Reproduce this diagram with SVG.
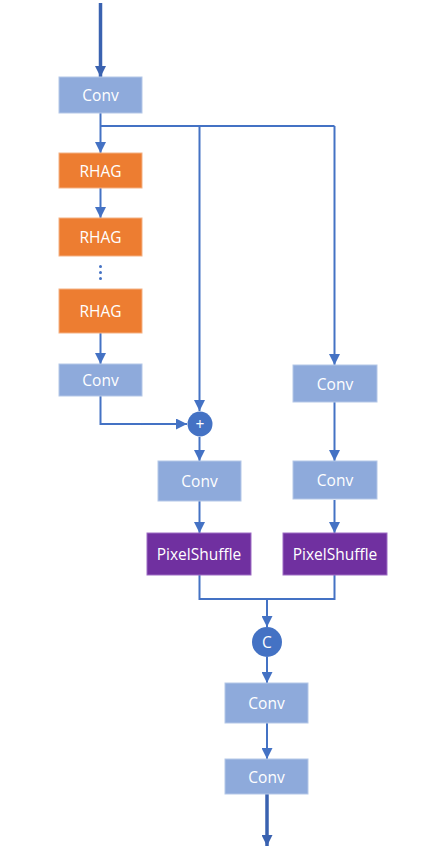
<svg xmlns="http://www.w3.org/2000/svg" width="422" height="848" viewBox="0 0 422 848">
<defs>
<marker id="ah" markerUnits="userSpaceOnUse" markerWidth="11" markerHeight="11" refX="11" refY="5.5" orient="auto"><path d="M0,0 L11,5.5 L0,11 z" fill="#4472c4"/></marker>
<marker id="ahb" markerUnits="userSpaceOnUse" markerWidth="11" markerHeight="11" refX="11" refY="5.5" orient="auto"><path d="M0,0 L11,5.5 L0,11 z" fill="#3a62b0"/></marker>
<style>
.conv{fill:#8eaadb;stroke:#b4c7e7;stroke-width:1}
.rhag{fill:#ed7d31;stroke:#f4b183;stroke-width:1}
.ps{fill:#7030a0;stroke:#9e6cc4;stroke-width:1}
.t{font-family:"Open Sans","Noto Sans",sans-serif;font-size:15.5px;fill:#fff;text-anchor:middle;dominant-baseline:central}
.ln{fill:none;stroke:#4472c4;stroke-width:2}
.thick{fill:none;stroke:#3a62b0;stroke-width:3.5}
.circ{fill:#4472c4}
</style>
</defs>
<rect width="422" height="848" fill="#fff"/>
<g id="connectors">
<line class="thick" x1="100.5" y1="3" x2="100.5" y2="77" marker-end="url(#ahb)"/>
<line class="ln" x1="100.5" y1="113" x2="100.5" y2="153" marker-end="url(#ah)"/>
<polyline class="ln" points="100.5,126 334.5,126"/>
<line class="ln" x1="199.5" y1="126" x2="199.5" y2="411" marker-end="url(#ah)"/>
<line class="ln" x1="334.5" y1="126" x2="334.5" y2="365" marker-end="url(#ah)"/>
<line class="ln" x1="100.5" y1="188" x2="100.5" y2="218" marker-end="url(#ah)"/>
<line class="ln" x1="100.5" y1="333" x2="100.5" y2="364" marker-end="url(#ah)"/>
<polyline class="ln" points="100.5,396 100.5,424 187,424" marker-end="url(#ah)"/>
<line class="ln" x1="199.5" y1="437" x2="199.5" y2="461" marker-end="url(#ah)"/>
<line class="ln" x1="199.5" y1="501" x2="199.5" y2="533" marker-end="url(#ah)"/>
<line class="ln" x1="334.5" y1="402" x2="334.5" y2="461" marker-end="url(#ah)"/>
<line class="ln" x1="334.5" y1="500" x2="334.5" y2="533" marker-end="url(#ah)"/>
<polyline class="ln" points="199.5,575 199.5,599 334.5,599 334.5,575"/>
<line class="ln" x1="267" y1="599" x2="267" y2="627" marker-end="url(#ah)"/>
<line class="ln" x1="267" y1="657" x2="267" y2="683" marker-end="url(#ah)"/>
<line class="ln" x1="267" y1="723" x2="267" y2="759" marker-end="url(#ah)"/>
<line class="thick" x1="267" y1="794" x2="267" y2="846" marker-end="url(#ahb)"/>
</g>
<g id="conv1"><rect class="conv" x="59" y="77" width="83" height="36"/><text class="t" x="100.5" y="95">Conv</text></g>
<g id="rhag1"><rect class="rhag" x="59" y="153" width="83" height="35"/><text class="t" x="100.5" y="170.5">RHAG</text></g>
<g id="rhag2"><rect class="rhag" x="59" y="218" width="83" height="38"/><text class="t" x="100.5" y="237">RHAG</text></g>
<g id="dots" fill="#4472c4"><circle cx="100.5" cy="266.5" r="1.5"/><circle cx="100.5" cy="272.5" r="1.5"/><circle cx="100.5" cy="278.5" r="1.5"/></g>
<g id="rhag3"><rect class="rhag" x="59" y="289" width="83" height="44"/><text class="t" x="100.5" y="311">RHAG</text></g>
<g id="conv2"><rect class="conv" x="59" y="364" width="83" height="32"/><text class="t" x="100.5" y="380">Conv</text></g>
<g id="plus"><circle class="circ" cx="200" cy="424" r="12.5"/><text class="t" x="200" y="424" font-size="12">+</text></g>
<g id="conv3"><rect class="conv" x="158" y="461" width="83" height="40"/><text class="t" x="199.5" y="481">Conv</text></g>
<g id="conv4"><rect class="conv" x="293" y="365" width="84" height="37"/><text class="t" x="335" y="383.5">Conv</text></g>
<g id="conv5"><rect class="conv" x="293" y="461" width="84" height="38"/><text class="t" x="335" y="480">Conv</text></g>
<g id="ps1"><rect class="ps" x="147" y="533" width="104" height="42"/><text class="t" x="199" y="554">PixelShuffle</text></g>
<g id="ps2"><rect class="ps" x="283" y="533" width="104" height="42"/><text class="t" x="335" y="554">PixelShuffle</text></g>
<g id="concat"><circle class="circ" cx="267" cy="642" r="15"/><text class="t" x="267" y="642">C</text></g>
<g id="conv6"><rect class="conv" x="225" y="683" width="83" height="40"/><text class="t" x="266.5" y="703">Conv</text></g>
<g id="conv7"><rect class="conv" x="225" y="759" width="83" height="35"/><text class="t" x="266.5" y="776.5">Conv</text></g>
</svg>
